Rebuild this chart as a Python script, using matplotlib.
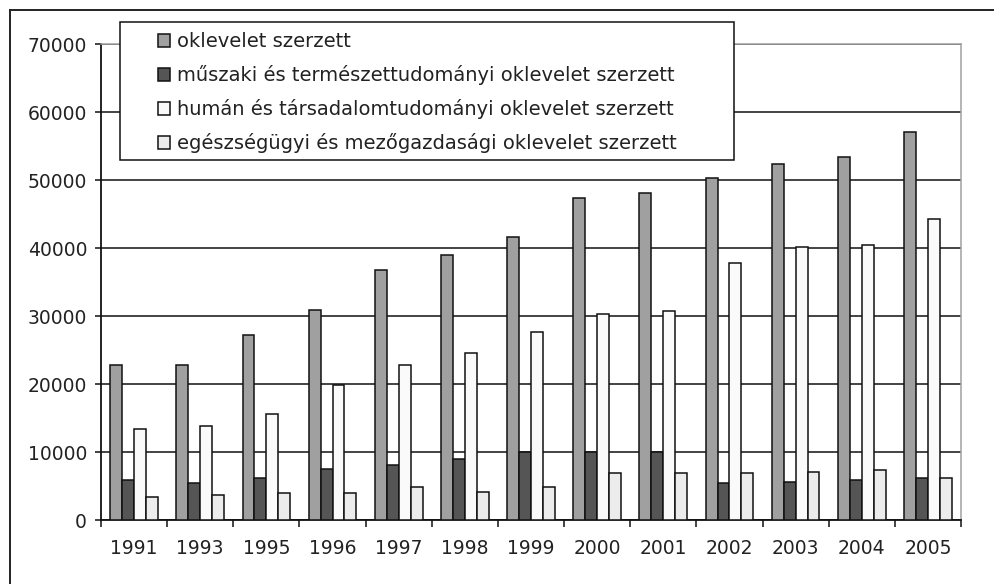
import matplotlib
matplotlib.use("Agg")
import matplotlib.pyplot as plt
import numpy as np
from matplotlib.patches import Rectangle
from matplotlib.lines import Line2D

years = ["1991", "1993", "1995", "1996", "1997", "1998", "1999",
         "2000", "2001", "2002", "2003", "2004", "2005"]
series_names = [
    "oklevelet szerzett",
    "műszaki és természettudományi oklevelet szerzett",
    "humán és társadalomtudományi oklevelet szerzett",
    "egészségügyi és mezőgazdasági oklevelet szerzett",
]
oklevelet = [22800, 22800, 27150, 30900, 36800, 38900, 41600,
             47400, 48100, 50300, 52400, 53400, 57000]
muszaki = [5850, 5400, 6150, 7550, 8100, 9000, 10000,
           10000, 10000, 5400, 5650, 5900, 6150]
human = [13400, 13800, 15550, 19800, 22800, 24500, 27600,
         30250, 30700, 37750, 40200, 40400, 44300]
egeszseg = [3450, 3750, 3950, 3950, 4900, 4150, 4900,
            6850, 6850, 6850, 7100, 7350, 6150]
y_ticks = [0, 10000, 20000, 30000, 40000, 50000, 60000, 70000]

colors = ["#a0a0a0", "#555555", "#fafafa", "#ececec"]
data = [oklevelet, muszaki, human, egeszseg]

W, H = 994, 584
fig = plt.figure(figsize=(W / 100, H / 100), dpi=100)
fig.patch.set_facecolor("white")
ax = fig.add_axes([101 / W, 1 - 520 / H, (961 - 101) / W, (520 - 44) / H])

x = np.arange(len(years))
bw = 0.18
for k, (vals, col) in enumerate(zip(data, colors)):
    ax.bar(x + (k - 1.5) * bw, vals, width=bw, color=col, edgecolor="#111111",
           linewidth=1.1, zorder=3, label=series_names[k])

ax.set_xlim(-0.5, len(years) - 0.5)
ax.set_ylim(0, 70000)
ax.set_yticks(y_ticks)
ax.set_yticklabels([str(v) for v in y_ticks])
ax.yaxis.grid(True, color="#111111", linewidth=1.1, zorder=1)
ax.set_axisbelow(True)

ax.set_xticks(np.arange(len(years) + 1) - 0.5)
ax.set_xticklabels([])
ax.set_xticks(x, minor=True)
ax.set_xticklabels(years, minor=True)
ax.tick_params(axis="x", which="major", direction="out", length=5, width=1.1,
               color="#111111")
ax.tick_params(axis="x", which="minor", length=0, pad=14, labelsize=13.5,
               labelcolor="#222222")
ax.tick_params(axis="y", direction="out", length=4, width=1.1, color="#111111",
               pad=6, labelsize=13.5, labelcolor="#222222")
for lab in ax.get_xticklabels(minor=True) + ax.get_yticklabels():
    lab.set_family("DejaVu Sans")

ax.spines["left"].set_color("#111111")
ax.spines["left"].set_linewidth(1.3)
ax.spines["bottom"].set_color("#111111")
ax.spines["bottom"].set_linewidth(1.3)
ax.spines["top"].set_color("#a0a0a0")
ax.spines["top"].set_linewidth(1.1)
ax.spines["right"].set_color("#a0a0a0")
ax.spines["right"].set_linewidth(1.1)

# legend frame
rect = Rectangle((120 / W, 1 - 160 / H), (734 - 120) / W, (160 - 22) / H,
                 transform=fig.transFigure, facecolor="white",
                 edgecolor="#111111", linewidth=1.1, zorder=4)
fig.add_artist(rect)
handles, labels = ax.get_legend_handles_labels()
leg = fig.legend(handles, labels, loc="upper left",
                 bbox_to_anchor=(143 / W, 1 - 17 / H), frameon=False,
                 prop={"family": "DejaVu Sans", "size": 14},
                 handlelength=0.63, handleheight=0.63, handletextpad=0.34,
                 labelspacing=0.72, borderpad=0.28)
leg.set_zorder(5)
for t in leg.get_texts():
    t.set_color("#222222")

# outer border (only top and left visible)
fig.add_artist(Line2D([10 / W, 1], [1 - 10 / H, 1 - 10 / H], transform=fig.transFigure,
                      color="#222222", linewidth=1.4))
fig.add_artist(Line2D([10 / W, 10 / W], [0, 1 - 10 / H], transform=fig.transFigure,
                      color="#222222", linewidth=1.4))

fig.savefig("out.png", dpi=100, facecolor="white")
